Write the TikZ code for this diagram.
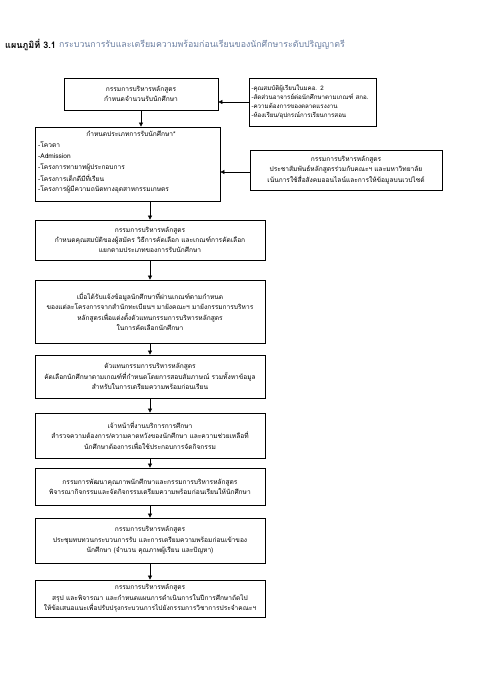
\documentclass[tikz,border=0pt]{standalone}
\usepackage{fontspec}
\newfontfamily\thai[Script=Thai]{Loma}
\usetikzlibrary{arrows.meta}
\definecolor{titleblue}{RGB}{105,125,160}
\begin{document}
\begin{tikzpicture}[x=1pt,y=-1pt,
  txt/.style={font=\thai\fontsize{6.6}{10.3}\selectfont, text=black},
  box/.style={draw=black, line width=0.8pt, inner sep=2pt, align=center, txt},
  arr/.style={-{Triangle[length=4pt,width=4pt]}, line width=0.6pt}]
\useasboundingbox (0,0) rectangle (485,700);
% title
\node[anchor=west, inner sep=0pt, font=\thai\bfseries\fontsize{9}{10}\selectfont] (t1) at (5,45) {แผนภูมิที่ 3.1};
\node[anchor=west, inner sep=0pt, font=\thai\fontsize{8.8}{10}\selectfont, text=titleblue] (t2) at ([xshift=3pt]t1.east) {กระบวนการรับและเตรียมความพร้อมก่อนเรียนของนักศึกษาระดับปริญญาตรี};
% box 1
\node[box, minimum width=154pt, minimum height=32pt] (b1) at (141,94) {กรรมการบริหารหลักสูตร\\กำหนดจำนวนรับนักศึกษา};
% right box 1
\node[box, align=left, text width=123pt, inner xsep=2pt, minimum height=48pt, font=\thai\fontsize{6.2}{9}\selectfont] (r1) at (313,102) {-คุณสมบัติผู้เรียนในมคอ. 2\\-สัดส่วนอาจารย์ต่อนักศึกษาตามเกณฑ์ สกอ.\\-ความต้องการของตลาดแรงงาน\\-ห้องเรียน/อุปกรณ์การเรียนการสอน};
% box 2
\node[box, minimum width=185pt, minimum height=74pt] (b2) at (127.5,164) {};
\node[txt, inner sep=0pt] (b2h) at (131,134) {กำหนดประเภทการรับนักศึกษา*};
\node[txt, inner sep=0pt, anchor=west] (b2a) at (38,145) {-โควตา};
\node[txt, inner sep=0pt, anchor=west] (b2b) at (38,156) {-Admission};
\node[txt, inner sep=0pt, anchor=west] (b2c) at (38,167) {-โครงการทายาทผู้ประกอบการ};
\node[txt, inner sep=0pt, anchor=west] (b2d) at (38,178) {-โครงการเด็กดีมีที่เรียน};
\node[txt, inner sep=0pt, anchor=west] (b2e) at (38,189) {-โครงการผู้มีความถนัดทางอุตสาหกรรมเกษตร};
% right box 2
\node[box, minimum width=192pt, minimum height=40pt] (r2) at (346,170) {กรรมการบริหารหลักสูตร\\ประชาสัมพันธ์หลักสูตรร่วมกับคณะฯ และมหาวิทยาลัย\\เน้นการใช้สื่อสังคมออนไลน์และการให้ข้อมูลบนเวปไซต์};
% main column
\node[box, minimum width=230pt, minimum height=40pt] (b3) at (150,240) {กรรมการบริหารหลักสูตร\\กำหนดคุณสมบัติของผู้สมัคร วิธีการคัดเลือก และเกณฑ์การคัดเลือก\\แยกตามประเภทของการรับนักศึกษา};
\node[box, minimum width=230pt, minimum height=63pt] (b4) at (150,311.5) {เมื่อได้รับแจ้งข้อมูลนักศึกษาที่ผ่านเกณฑ์ตามกำหนด\\ของแต่ละโครงการจากสำนักทะเบียนฯ มายังคณะฯ  มายังกรรมการบริหาร\\หลักสูตรเพื่อแต่งตั้งตัวแทนกรรมการบริหารหลักสูตร\\ในการคัดเลือกนักศึกษา};
\node[box, minimum width=230pt, minimum height=43pt] (b5) at (150,376.5) {ตัวแทนกรรมการบริหารหลักสูตร\\คัดเลือกนักศึกษาตามเกณฑ์ที่กำหนดโดยการสอบสัมภาษณ์ รวมทั้งหาข้อมูล\\สำหรับในการเตรียมความพร้อมก่อนเรียน};
\node[box, minimum width=230pt, minimum height=45pt] (b6) at (150,435.5) {เจ้าหน้าที่งานบริการการศึกษา\\สำรวจความต้องการ/ความคาดหวังของนักศึกษา และความช่วยเหลือที่\\นักศึกษาต้องการเพื่อใช้ประกอบการจัดกิจกรรม};
\node[box, minimum width=230pt, minimum height=37pt] (b7) at (150,486.5) {กรรมการพัฒนาคุณภาพนักศึกษาและกรรมการบริหารหลักสูตร\\พิจารณากิจกรรมและจัดกิจกรรมเตรียมความพร้อมก่อนเรียนให้นักศึกษา};
\node[box, minimum width=230pt, minimum height=45pt] (b8) at (150,540.5) {กรรมการบริหารหลักสูตร\\ประชุมทบทวนกระบวนการรับ และการเตรียมความพร้อมก่อนเข้าของ\\นักศึกษา (จำนวน คุณภาพผู้เรียน และปัญหา)};
\node[box, minimum width=230pt, minimum height=37pt] (b9) at (150,598.5) {กรรมการบริหารหลักสูตร\\สรุป และพิจารณา และกำหนดแผนการดำเนินการในปีการศึกษาถัดไป\\ให้ข้อเสนอแนะเพื่อปรับปรุงกระบวนการไปยังกรรมการวิชาการประจำคณะฯ};
% connectors
\draw[arr] (r1.west |- 0,102) -- (b1.east |- 0,102);
\draw[arr] (r2.west |- 0,172) -- (b2.east |- 0,172);
\draw[arr] (b1.south) -- (b2.north -| b1.south);
\draw[arr] (b2.south -| b3.north) -- (b3.north);
\draw[arr] (b3.south) -- (b4.north);
\draw[arr] (b4.south) -- (b5.north);
\draw[arr] (b5.south) -- (b6.north);
\draw[arr] (b6.south) -- (b7.north);
\draw[arr] (b7.south) -- (b8.north);
\draw[arr] (b8.south) -- (b9.north);
\end{tikzpicture}
\end{document}
